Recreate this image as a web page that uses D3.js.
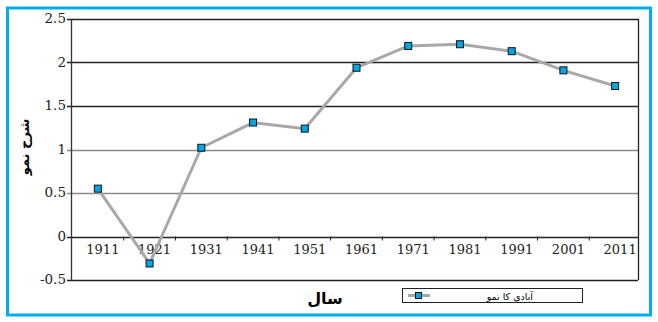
<!DOCTYPE html>
<html>
<head>
<meta charset="utf-8">
<script src="https://cdn.jsdelivr.net/npm/d3@7"></script>
<style>
  body { margin: 0; background: #fff; }
  svg { display: block; }
</style>
</head>
<body>
<div id="chart"></div>
<script>
// data
var years = ['1911','1921','1931','1941','1951','1961','1971','1981','1991','2001','2011'];
var growth = [0.55, -0.31, 1.02, 1.31, 1.24, 1.94, 2.19, 2.21, 2.13, 1.91, 1.73];
var yTicks = [-0.5, 0, 0.5, 1, 1.5, 2, 2.5];
var greyGrid = [0.5, 1];
var yLabel = 'شرح نمو';
var xLabel = 'سال';
var seriesName = 'آبادی کا نمو';

var W = 658, H = 322;
var svg = d3.select('#chart')
            .append('svg')
            .attr('width', W)
            .attr('height', H);

// frame
svg.append('rect')
   .attr('x', 7.5).attr('y', 8)
   .attr('width', 643).attr('height', 307)
   .style('fill', 'none')
   .style('stroke', '#00aeef')
   .style('stroke-width', 3);

var plot = {left: 71, right: 638, top: 19, bottom: 280};

var x = d3.scaleBand().domain(years).range([72, 641]);
var y = d3.scaleLinear().domain([-0.5, 2.5]).range([plot.bottom, plot.top]);

// grid
svg.selectAll('.grid')
   .data(yTicks)
   .enter().append('line')
   .attr('class', 'grid')
   .attr('x1', plot.left - 4).attr('x2', plot.right)
   .attr('y1', function(d){ return Math.round(y(d)) + 0.5; })
   .attr('y2', function(d){ return Math.round(y(d)) + 0.5; })
   .style('stroke', function(d){ return greyGrid.indexOf(d) >= 0 ? '#8a8a8a' : '#222'; })
   .style('stroke-width', 1.3);

// left axis + right border
svg.append('line')
   .attr('x1', plot.left + 0.5).attr('x2', plot.left + 0.5)
   .attr('y1', plot.top).attr('y2', plot.bottom)
   .style('stroke', '#333').style('stroke-width', 1.3);
svg.append('line')
   .attr('x1', plot.right + 0.5).attr('x2', plot.right + 0.5)
   .attr('y1', plot.top).attr('y2', plot.bottom)
   .style('stroke', '#222').style('stroke-width', 1.3);

// y tick labels
svg.selectAll('.ylab')
   .data(yTicks)
   .enter().append('text')
   .attr('class', 'ylab')
   .attr('x', plot.left - 5)
   .attr('y', function(d){ return y(d) + 4; })
   .attr('text-anchor', 'end')
   .style('font-family', 'DejaVu Serif')
   .style('font-size', '13.5px')
   .style('fill', '#222')
   .text(function(d){ return d; });

// x ticks on the zero line
var bounds = years.slice(1).map(function(d){ return x(d); });
svg.selectAll('.xtick')
   .data(bounds)
   .enter().append('line')
   .attr('class', 'xtick')
   .attr('x1', function(d){ return d; }).attr('x2', function(d){ return d; })
   .attr('y1', y(0)).attr('y2', y(0) + 4)
   .style('stroke', '#222');

svg.selectAll('.xlab')
   .data(years)
   .enter().append('text')
   .attr('class', 'xlab')
   .attr('x', function(d){ return x(d) + x.bandwidth() / 2 + 5; })
   .attr('y', y(0) + 17)
   .attr('text-anchor', 'middle')
   .style('font-family', 'DejaVu Serif')
   .style('font-size', '13px')
   .style('fill', '#222')
   .text(function(d){ return d; });

// line
var pts = years.map(function(d, i){ return [x(d) + x.bandwidth() / 2, y(growth[i])]; });
svg.append('path')
   .attr('d', d3.line()(pts))
   .style('fill', 'none')
   .style('stroke', '#a8a8a8')
   .style('stroke-width', 3);

svg.selectAll('.mark')
   .data(pts)
   .enter().append('rect')
   .attr('class', 'mark')
   .attr('x', function(d){ return d[0] - 3.5; })
   .attr('y', function(d){ return d[1] - 3.5; })
   .attr('width', 7).attr('height', 7)
   .style('fill', '#00a6e6')
   .style('stroke', '#111')
   .style('stroke-width', 1);

// axis titles
svg.append('text')
   .attr('transform', 'translate(29,147) rotate(-90)')
   .attr('text-anchor', 'middle')
   .style('font-family', 'DejaVu Sans')
   .style('font-weight', 'bold')
   .style('font-size', '13px')
   .attr('direction', 'rtl')
   .text(yLabel);

svg.append('text')
   .attr('x', 325).attr('y', 304)
   .attr('text-anchor', 'middle')
   .style('font-family', 'DejaVu Sans')
   .style('font-weight', 'bold')
   .style('font-size', '16px')
   .text(xLabel);

// legend
var lg = svg.append('g').attr('transform', 'translate(402,288)');
lg.append('rect')
  .attr('x', 0.5).attr('y', 0.5)
  .attr('width', 180).attr('height', 14)
  .style('fill', '#fff')
  .style('stroke', '#222');
lg.append('line')
  .attr('x1', 6).attr('x2', 28).attr('y1', 7.5).attr('y2', 7.5)
  .style('stroke', '#a8a8a8').style('stroke-width', 3);
lg.append('rect')
  .attr('x', 13.5).attr('y', 4.5).attr('width', 6).attr('height', 6)
  .style('fill', '#00a6e6').style('stroke', '#111');
lg.append('text')
  .attr('x', 131).attr('y', 11.5)
  .attr('text-anchor', 'end')
  .style('font-family', 'DejaVu Sans')
  .style('font-size', '9.5px')
  .text(seriesName);
</script>
</body>
</html>
